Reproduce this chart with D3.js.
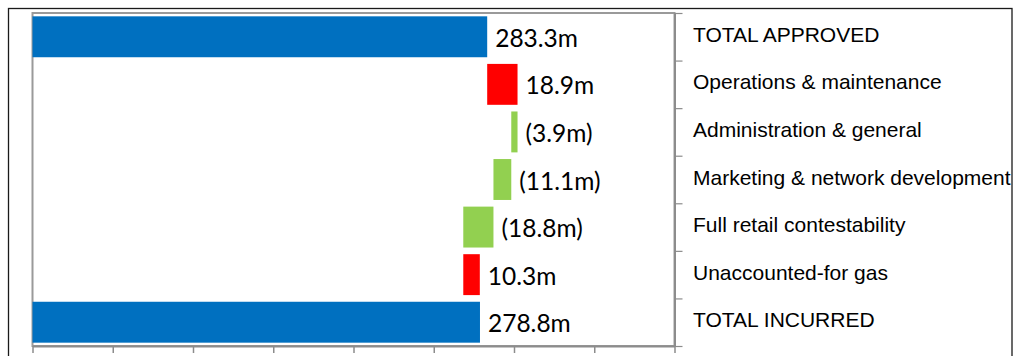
<!DOCTYPE html>
<html>
<head>
<meta charset="utf-8">
<script src="https://cdn.jsdelivr.net/npm/d3@7"></script>
<style>
  html, body { margin: 0; padding: 0; background: #fff; }
  svg { display: block; }
</style>
</head>
<body>
<svg id="chart" width="1021" height="356"></svg>
<script>
// ---- Data ----
const categories = [
  "TOTAL APPROVED",
  "Operations & maintenance",
  "Administration & general",
  "Marketing & network development",
  "Full retail contestability",
  "Unaccounted-for gas",
  "TOTAL INCURRED"
];
const values = [283.3, 18.9, -3.9, -11.1, -18.8, 10.3, 278.8];
const kinds = ["total", "delta", "delta", "delta", "delta", "delta", "total"];
const xTicks = [0, 50, 100, 150, 200, 250, 300, 350, 400];

// ---- Layout ----
const plot = { left: 32.5, top: 13, right: 674.5, bottom: 346 };
const colors = { total: "#0070C0", up: "#FF0000", down: "#92D050" };

const svg = d3.select("#chart");

// outer frame
svg.append("rect")
  .attr("x", 8.5).attr("y", 8.5)
  .attr("width", 1003.5).attr("height", 400)
  .attr("fill", "none").attr("stroke", "#1a1a1a").attr("stroke-width", 1.3);

const x = d3.scaleLinear().domain([0, 400]).range([plot.left, plot.right]);
const y = d3.scaleBand().domain(categories).range([plot.top, plot.bottom])
  .paddingInner(0.14).paddingOuter(0.07);
const yIdx = d3.scaleLinear().domain([0, categories.length]).range([plot.top, plot.bottom]);

// compute waterfall segments
let running = 0;
const bars = categories.map((c, i) => {
  const v = values[i];
  let start, end, color;
  if (kinds[i] === "total") {
    start = 0; end = v; running = v; color = colors.total;
  } else {
    start = running; end = running + v; running = end;
    color = v >= 0 ? colors.up : colors.down;
  }
  const label = v < 0 ? "(" + Math.abs(v).toFixed(1) + "m)" : v.toFixed(1) + "m";
  return { c, v, start, end, color, label };
});

// plot border
svg.append("rect")
  .attr("x", plot.left).attr("y", plot.top)
  .attr("width", plot.right - plot.left).attr("height", plot.bottom - plot.top)
  .attr("fill", "none").attr("stroke", "#9a9a9a").attr("stroke-width", 2);

// bottom axis
const xAxis = svg.append("g")
  .attr("transform", `translate(0,${plot.bottom})`)
  .call(d3.axisBottom(x).tickValues(xTicks).tickSize(7).tickFormat("").tickSizeOuter(0));
xAxis.select(".domain").attr("stroke", "#8c8c8c").attr("stroke-width", 2);
xAxis.selectAll(".tick line").attr("stroke", "#8c8c8c").attr("stroke-width", 1.5);

// right axis (category separators)
const yAxis = svg.append("g")
  .attr("transform", `translate(${plot.right},0)`)
  .call(d3.axisRight(yIdx).tickValues(d3.range(categories.length + 1)).tickSize(8).tickFormat("").tickSizeOuter(0));
yAxis.select(".domain").attr("stroke", "#8c8c8c").attr("stroke-width", 2);
yAxis.selectAll(".tick line").attr("stroke", "#8c8c8c").attr("stroke-width", 1.2);

// bars
svg.append("g").selectAll("rect")
  .data(bars).join("rect")
  .attr("x", d => x(Math.min(d.start, d.end)))
  .attr("y", d => y(d.c))
  .attr("width", d => Math.abs(x(d.end) - x(d.start)))
  .attr("height", y.bandwidth())
  .attr("fill", d => d.color);

// value labels
svg.append("g").selectAll("text")
  .data(bars).join("text")
  .attr("x", d => x(Math.max(d.start, d.end)) + 8)
  .attr("y", d => y(d.c) + y.bandwidth() / 2 + 10)
  .attr("font-family", "Lato, 'Open Sans', sans-serif")
  .attr("font-size", 24.5)
  .attr("fill", "#000")
  .text(d => d.label);

// category labels
svg.append("g").selectAll("text")
  .data(categories).join("text")
  .attr("x", 693)
  .attr("y", d => y(d) + y.bandwidth() / 2 + 5)
  .attr("font-family", "'Liberation Sans', Arial, sans-serif")
  .attr("font-size", 21)
  .attr("fill", "#000")
  .text(d => d);
</script>
</body>
</html>
